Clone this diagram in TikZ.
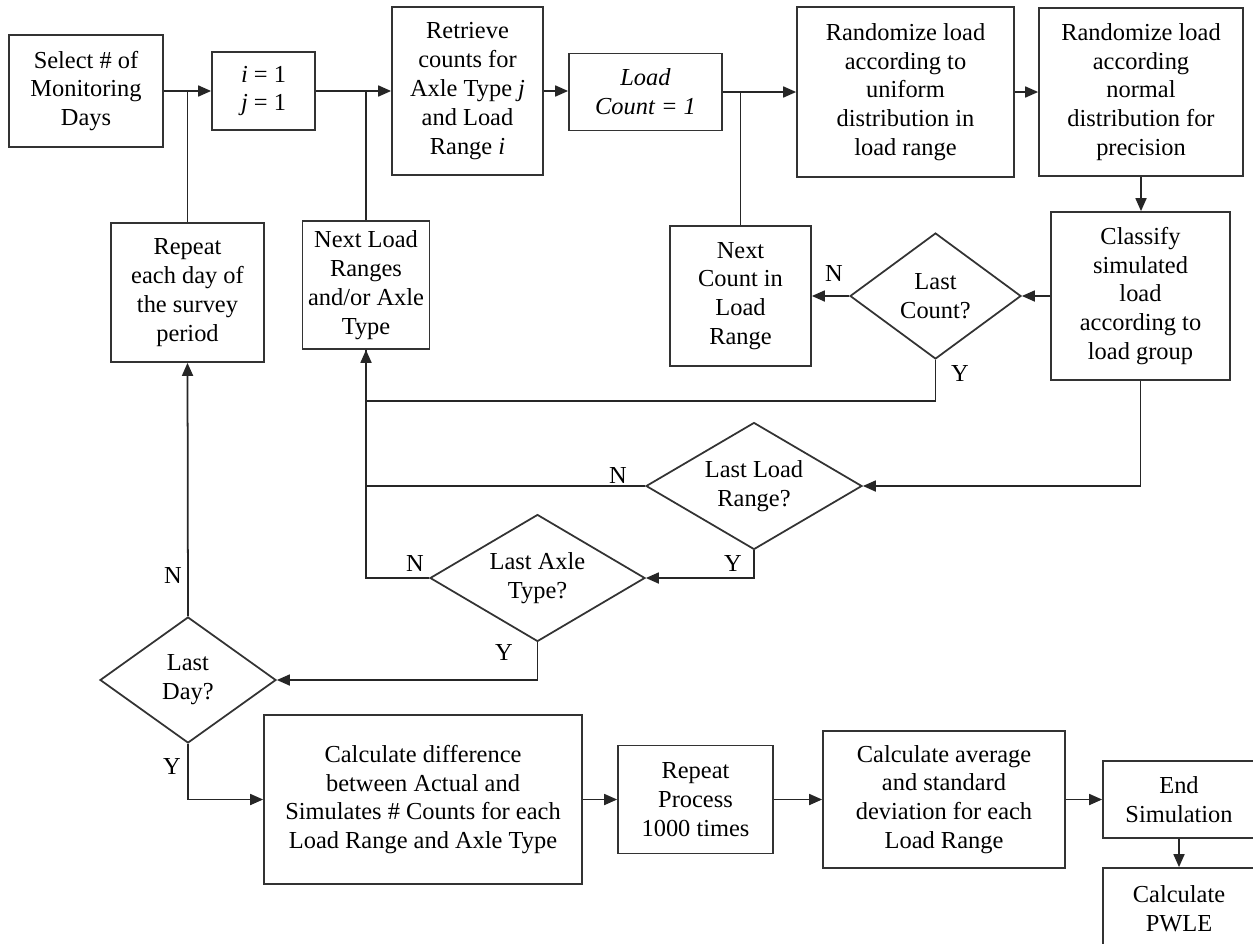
\documentclass[tikz,border=0pt]{standalone}
\usepackage{fontspec}
\setmainfont{Liberation Serif}
\usetikzlibrary{shapes.geometric}
\usetikzlibrary{arrows.meta}

\begin{document}
\begin{tikzpicture}[x=0.02cm,y=-0.02cm,
        every node/.style={font=\fontsize{13.9}{16.4}\selectfont},
        box/.style={draw=black!80,line width=1pt,align=center,inner sep=0pt},
        choice/.style={diamond,aspect=1.7,draw=black!80,line width=1pt,align=center,inner sep=0pt},
        flow/.style={line width=1pt,black!85},
        arr/.style={flow,-{Triangle[length=0.26cm,width=0.22cm]}}]
        % frame
        \useasboundingbox (0,0) rectangle (1253,943);
        \clip (0,0) rectangle (1253,943);

        % top row
        \node[box,minimum width=3.08cm,minimum height=2.24cm] (select) at (86,91) {Select \# of\\Monitoring\\Days};
        \node[box,minimum width=2.06cm,minimum height=1.56cm] (ij) at (263.5,91) {\textit{i} = 1\\\textit{j} = 1};
        \node[box,minimum width=3.02cm,minimum height=3.36cm] (retrieve) at (467.5,91) {Retrieve\\counts for\\Axle Type \textit{j}\\and Load\\Range \textit{i}};
        \node[box,minimum width=3.06cm,minimum height=1.54cm] (loadcount) at (645.5,92) {\textit{Load}\\\textit{Count = 1}};
        \node[box,minimum width=4.34cm,minimum height=3.4cm] (randu) at (905.5,92) {Randomize load\\according to\\uniform\\distribution in\\load range};
        \node[box,minimum width=4.08cm,minimum height=3.36cm] (randn) at (1141,92) {Randomize load\\according\\normal\\distribution for\\precision};

        % second row
        \node[box,minimum width=3.06cm,minimum height=2.78cm] (repeat) at (187.5,292.5) {Repeat\\each day of\\the survey\\period};
        \node[box,minimum width=2.54cm,minimum height=2.56cm] (nextload) at (366,285) {Next Load\\Ranges\\and/or Axle\\Type};
        \node[box,minimum width=2.82cm,minimum height=2.8cm] (nextcount) at (740.5,296) {Next\\Count in\\Load\\Range};
        \node[choice,minimum width=3.42cm,minimum height=2.52cm] (lastcount) at (935.5,296) {Last\\Count?};
        \node[box,minimum width=3.58cm,minimum height=3.36cm] (classify) at (1140.5,296) {Classify\\simulated\\load\\according to\\load group};

        % decisions
        \node[choice,minimum width=4.32cm,minimum height=2.54cm] (lastload) at (754,486) {Last Load\\Range?};
        \node[choice,minimum width=4.3cm,minimum height=2.54cm] (lastaxle) at (537.5,578) {Last Axle\\Type?};
        \node[choice,minimum width=3.52cm,minimum height=2.52cm] (lastday) at (188,680) {Last\\Day?};

        % bottom row
        \node[box,minimum width=6.36cm,minimum height=3.38cm] (calcdiff) at (423,799.5) {Calculate difference\\between Actual and\\Simulates \# Counts for each\\Load Range and Axle Type};
        \node[box,minimum width=3.1cm,minimum height=2.16cm] (repproc) at (695.5,799.5) {Repeat\\Process\\1000 times};
        \node[box,minimum width=4.84cm,minimum height=2.74cm] (calcavg) at (944,799.5) {Calculate average\\and standard\\deviation for each\\Load Range};
        \node[box,minimum width=3.04cm,minimum height=1.54cm] (endsim) at (1179,799.5) {End\\Simulation};
        \node[box,minimum width=3.04cm,minimum height=1.64cm] (pwle) at (1179,909) {Calculate\\PWLE};

        % yes / no labels
        \node (nlc) at (834,273) {N};
        \node (ylc) at (960,373) {Y};
        \node (nll) at (618,475) {N};
        \node (yll) at (733,563) {Y};
        \node (nla) at (415,563) {N};
        \node (yla) at (504,652) {Y};
        \node (nld) at (173,575) {N};
        \node (yld) at (172,766) {Y};

        % top row arrows
        \draw[arr] (select) -- (ij);
        \draw[arr] (ij) -- (retrieve);
        \draw[arr] (retrieve.east) -- (retrieve.east -| loadcount.west);
        \draw[arr] (loadcount) -- (randu);
        \draw[arr] (randu) -- (randn);
        \draw[arr] (randn.south) -- (randn.south |- classify.north);

        % loops back to the top row
        \draw[flow] (repeat.north) -- (repeat.north |- select.east);
        \draw[flow] (nextload.north) -- (nextload.north |- ij.east);
        \draw[flow] (nextcount.north) -- (nextcount.north |- loadcount.east);

        % count loop
        \draw[arr] (classify) -- (lastcount);
        \draw[arr] (lastcount) -- (nextcount);
        \draw[flow] (lastcount.south) -- ++(0,41) -| (nextload.south);

        % load range and axle type
        \draw[arr] (classify.south) |- (lastload.east);
        \draw[flow] (lastload.west) -- (lastload.west -| nextload.south);
        \draw[arr] (lastload.south) |- (lastaxle.east);
        \draw[arr] (lastaxle.west) -| (nextload.south);
        \draw[arr] (lastaxle.south) |- (lastday.east);

        % day loop
        \draw[arr] (lastday.north) -- (repeat.south);
        \draw[arr] (lastday.south) |- (calcdiff.west);

        % bottom row arrows
        \draw[arr] (calcdiff) -- (repproc);
        \draw[arr] (repproc) -- (calcavg);
        \draw[arr] (calcavg) -- (endsim);
        \draw[arr] (endsim) -- (pwle);
\end{tikzpicture}
\end{document}
